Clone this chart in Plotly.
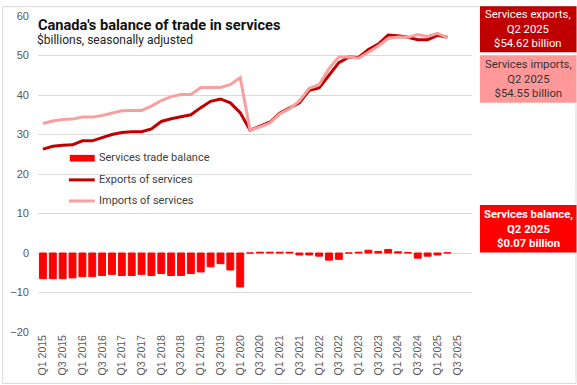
import plotly.graph_objects as go

quarters = [
    "Q1 2015", "Q2 2015", "Q3 2015", "Q4 2015",
    "Q1 2016", "Q2 2016", "Q3 2016", "Q4 2016",
    "Q1 2017", "Q2 2017", "Q3 2017", "Q4 2017",
    "Q1 2018", "Q2 2018", "Q3 2018", "Q4 2018",
    "Q1 2019", "Q2 2019", "Q3 2019", "Q4 2019",
    "Q1 2020", "Q2 2020", "Q3 2020", "Q4 2020",
    "Q1 2021", "Q2 2021", "Q3 2021", "Q4 2021",
    "Q1 2022", "Q2 2022", "Q3 2022", "Q4 2022",
    "Q1 2023", "Q2 2023", "Q3 2023", "Q4 2023",
    "Q1 2024", "Q2 2024", "Q3 2024", "Q4 2024",
    "Q1 2025", "Q2 2025", "Q3 2025", "Q4 2025",
]

exports = [26.3, 27.0, 27.3, 27.4, 28.4, 28.4, 29.2, 30.0, 30.5, 30.7, 30.7, 31.4,
           33.3, 34.0, 34.5, 35.0, 36.8, 38.4, 39.0, 38.0, 35.5, 31.1, 32.1, 33.1,
           35.4, 36.7, 38.0, 41.2, 41.8, 45.0, 48.2, 49.6, 49.5, 51.5, 52.9, 55.2,
           55.0, 54.6, 54.0, 54.0, 55.1, 54.62]

imports = [32.8, 33.4, 33.8, 33.9, 34.4, 34.4, 34.8, 35.5, 36.0, 36.1, 36.1, 37.2,
           38.6, 39.6, 40.1, 40.1, 41.9, 41.9, 41.9, 42.6, 44.4, 31.1, 31.9, 32.9,
           35.2, 36.5, 38.5, 41.7, 42.6, 46.7, 49.6, 49.6, 49.3, 50.8, 52.4, 54.3,
           54.7, 54.6, 55.3, 54.8, 55.6, 54.55]

balance = [-6.5, -6.5, -6.5, -6.3, -6.0, -6.0, -5.7, -5.4, -5.7, -5.7, -5.4, -5.7,
           -5.2, -5.7, -5.7, -5.2, -4.8, -3.5, -2.7, -4.3, -8.6, 0.0, 0.2, 0.2,
           0.2, 0.2, -0.5, -0.5, -0.8, -1.8, -1.6, 0.0, 0.2, 0.7, 0.4, 0.9,
           0.3, 0.1, -1.3, -0.8, -0.5, 0.07]

tick_labels = quarters[0::2]
y_ticks = [-20, -10, 0, 10, 20, 30, 40, 50, 60]

C_EXP = "#C00000"
C_IMP = "#F8A0A0"
C_BOX_IMP = "#FF9999"
C_BAL = "#FF0000"

W, H = 577, 385
L, R, T, B = 36, 472, 10, 332


def px(x):
    return (x - L) / (R - L)


def py(y):
    return (B - y) / (B - T)


n = len(balance)
fig = go.Figure()
fig.add_trace(go.Bar(x=quarters[:n], y=balance, name="Services trade balance",
                     marker=dict(color=C_BAL, line=dict(color=C_BAL, width=1)),
                     showlegend=False))
fig.add_trace(go.Scatter(x=quarters[:n], y=exports, mode="lines", name="Exports of services",
                         line=dict(color=C_EXP, width=3), showlegend=False))
fig.add_trace(go.Scatter(x=quarters[:n], y=imports, mode="lines", name="Imports of services",
                         line=dict(color=C_IMP, width=3), showlegend=False))

shapes = []
annotations = []

# chart border
shapes.append(dict(type="rect", xref="paper", yref="paper", x0=px(0.5), x1=px(W - 0.5),
                   y0=py(H - 0.5), y1=py(0.5), line=dict(color="#D9D9D9", width=1),
                   fillcolor="rgba(0,0,0,0)", layer="below"))

# title
annotations.append(dict(x=px(34), y=py(18.8), xref="paper", yref="paper", xanchor="left",
                        yanchor="middle", showarrow=False,
                        text="<b>Canada's balance of trade in services</b>",
                        font=dict(family="Roboto", size=14.6, color="#111111")))
annotations.append(dict(x=px(33), y=py(34.2), xref="paper", yref="paper", xanchor="left",
                        yanchor="middle", showarrow=False,
                        text="$billions, seasonally adjusted",
                        font=dict(family="Roboto", size=12, color="#222222")))

# custom legend
leg_font = dict(family="Roboto", size=11, color="#404040")
shapes.append(dict(type="rect", xref="paper", yref="paper", x0=px(68), x1=px(93),
                   y0=py(158.3), y1=py(151.5), fillcolor=C_BAL, line=dict(width=0)))
shapes.append(dict(type="line", xref="paper", yref="paper", x0=px(67), x1=px(93),
                   y0=py(177), y1=py(177), line=dict(color=C_EXP, width=3)))
shapes.append(dict(type="line", xref="paper", yref="paper", x0=px(67), x1=px(93),
                   y0=py(198.5), y1=py(198.5), line=dict(color=C_IMP, width=3)))
for txt, yy in [("Services trade balance", 154.5), ("Exports of services", 176.5),
                ("Imports of services", 198.5)]:
    annotations.append(dict(x=px(95), y=py(yy), xref="paper", yref="paper", xanchor="left",
                            yanchor="middle", showarrow=False, text=txt, font=leg_font))

# right-hand boxes
boxes = [
    (0, 47, C_EXP, "white", "Services exports,<br>Q2 2025<br>$54.62 billion", False),
    (50, 98.5, C_BOX_IMP, "#333333", "Services imports,<br>Q2 2025<br>$54.55 billion", False),
    (202.5, 251, C_BAL, "white", "Services balance,<br>Q2 2025<br>$0.07 billion", True),
]
for y0, y1, fill, tc, txt, bold in boxes:
    shapes.append(dict(type="rect", xref="paper", yref="paper", x0=px(480), x1=px(577),
                       y0=py(y1), y1=py(y0), fillcolor=fill, line=dict(width=0)))
    annotations.append(dict(x=px(528.5), y=py((y0 + y1) / 2), xref="paper", yref="paper",
                            xanchor="center", yanchor="middle", showarrow=False,
                            text=("<b>" + txt.replace("<br>", "</b><br><b>") + "</b>") if bold else txt,
                            align="center",
                            font=dict(family="Roboto", size=11.3, color=tc)))

fig.update_layout(
    width=W, height=H,
    margin=dict(l=L, r=W - R, t=T, b=H - B, pad=0),
    paper_bgcolor="white", plot_bgcolor="white",
    bargap=0.3,
    showlegend=False,
    shapes=shapes,
    annotations=annotations,
    xaxis=dict(type="category", categoryorder="array", categoryarray=quarters,
               range=[-0.5, len(quarters) - 0.5],
               tickmode="array", tickvals=tick_labels, ticktext=tick_labels,
               tickangle=-90, showgrid=False, showline=False, ticks="",
               tickfont=dict(family="Liberation Sans", size=10.5, color="#595959")),
    yaxis=dict(range=[-20, 60], tickmode="array", tickvals=y_ticks,
               showgrid=True, gridcolor="#D9D9D9", gridwidth=1,
               zeroline=True, zerolinecolor="#D9D9D9", zerolinewidth=1,
               showline=False, ticks="", ticklabelstandoff=8,
               tickfont=dict(family="Liberation Sans", size=11, color="#595959")),
)

fig.write_html("out.html", config={"displayModeBar": False},
               post_script="document.body.style.margin='0';document.body.style.overflow='hidden';")
